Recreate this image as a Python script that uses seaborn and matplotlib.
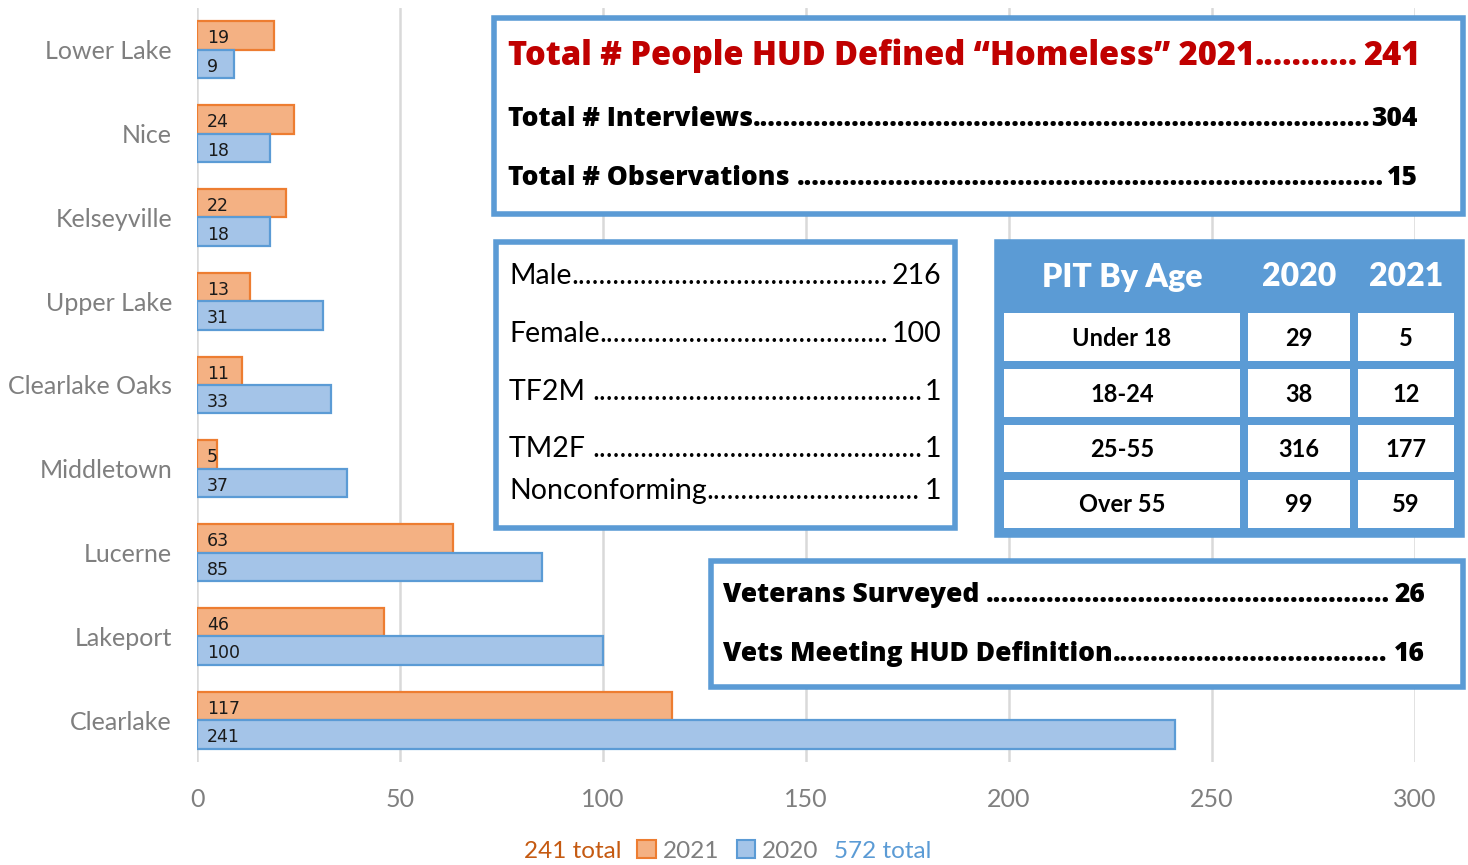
import pandas as pd
import matplotlib.pyplot as plt
import seaborn as sns
from matplotlib.patches import Rectangle

# data
towns = ["Lower Lake", "Nice", "Kelseyville", "Upper Lake", "Clearlake Oaks",
         "Middletown", "Lucerne", "Lakeport", "Clearlake"]
count_2021 = [19, 24, 22, 13, 11, 5, 63, 46, 117]
count_2020 = [9, 18, 18, 31, 33, 37, 85, 100, 241]
years = ["2021", "2020"]
total_2021 = "241 total"
total_2020 = "572 total"

summary_labels = ["Total # Interviews", "Total # Observations "]
summary_values = ["304", "15"]
title_label = "Total # People HUD Defined \u201cHomeless\u201d 2021"
title_value = "241"

gender_labels = ["Male", "Female", "TF2M ", "TM2F ", "Nonconforming"]
gender_values = ["216", "100", "1", "1", "1"]

age_header = ["PIT By Age", "2020", "2021"]
age_groups = ["Under 18", "18-24", "25-55", "Over 55"]
age_2020 = ["29", "38", "316", "99"]
age_2021 = ["5", "12", "177", "59"]

vet_labels = ["Veterans Surveyed ", "Vets Meeting HUD Definition"]
vet_values = ["26", "16"]

ORANGE_FILL, ORANGE_EDGE = "#F4B183", "#ED7D31"
BLUE_FILL, BLUE_EDGE = "#A4C4E8", "#5B9BD5"
BOX = "#5B9BD5"
W, H = 1468, 865


def fx(x):
    return x / W


def fy(y):
    return 1 - y / H


def box(fig, x0, y0, x1, y1, face="white"):
    fig.patches.append(Rectangle((fx(x0), fy(y1)), fx(x1 - x0), (y1 - y0) / H,
                                 transform=fig.transFigure, facecolor=face,
                                 edgecolor=BOX, linewidth=4, zorder=5))


def leader(fig, label, value, x0, x1, y, **kw):
    """label ....... value, the dots fill the gap"""
    r = fig.canvas.get_renderer()
    t1 = fig.text(fx(x0), fy(y), label, ha="left", va="center", zorder=6, **kw)
    t2 = fig.text(fx(x1), fy(y), value, ha="right", va="center", zorder=6, **kw)
    a = t1.get_window_extent(r).x1
    b = t2.get_window_extent(r).x0
    d = fig.text(a / fig.bbox.width, fy(y), ".", ha="left", va="center", zorder=6, **kw)
    n = 1
    while True:
        d.set_text("." * (n + 1))
        if d.get_window_extent(r).width > (b - a) - 1:
            break
        n += 1
    d.set_text("." * n)


df = pd.DataFrame({
    "town": towns * 2,
    "year": ["2021"] * len(towns) + ["2020"] * len(towns),
    "count": count_2021 + count_2020,
})

sns.set_style("white")
plt.rcParams["font.family"] = ["Lato", "DejaVu Sans"]

fig = plt.figure(figsize=(14.68, 8.65), dpi=100)
ax = fig.add_axes([fx(197), fy(762), fx(1415 - 197), (762 - 8) / H])

sns.barplot(data=df, y="town", x="count", hue="year", hue_order=years,
            order=towns, orient="h", width=0.68, ax=ax,
            palette=[ORANGE_FILL, BLUE_FILL], saturation=1, legend=False)
for cont, edge in zip(ax.containers, [ORANGE_EDGE, BLUE_EDGE]):
    for rect in cont:
        rect.set_edgecolor(edge)
        rect.set_linewidth(1.6)
        ax.text(rect.get_x() + 2.5, rect.get_y() + rect.get_height() * 0.6,
                f"{int(rect.get_width())}", va="center", ha="left",
                fontsize=12.5, color="#1a1a1a", family="Liberation Sans Narrow")

ax.set_xlim(0, 300)
ax.set_ylim(len(towns) - 0.5, -0.5)
ax.set_xticks(range(0, 301, 50))
ax.xaxis.grid(True, color="#D9D9D9", linewidth=1.8)
ax.set_axisbelow(True)
sns.despine(ax=ax, left=True, bottom=True, top=True, right=True)
ax.tick_params(axis="both", length=0, labelsize=18, labelcolor="#7F7F7F")
ax.tick_params(axis="x", pad=19)
ax.tick_params(axis="y", pad=18)
ax.set_xlabel("")
ax.set_ylabel("")

# legend row
handles = [Rectangle((0, 0), 1, 1, facecolor=ORANGE_FILL, edgecolor=ORANGE_EDGE, lw=1.5),
           Rectangle((0, 0), 1, 1, facecolor=BLUE_FILL, edgecolor=BLUE_EDGE, lw=1.5)]
fig.legend(handles, years, loc="center", bbox_to_anchor=(fx(728), fy(851)), ncol=2,
           frameon=False, handlelength=0.75, handleheight=0.75, handletextpad=0.3,
           columnspacing=0.7, labelcolor="#7F7F7F", fontsize=17.5)
fig.text(fx(621), fy(851), total_2021, ha="right", va="center", color="#C55A11", fontsize=17.5)
fig.text(fx(834), fy(851), total_2020, ha="left", va="center", color="#5B9BD5", fontsize=17.5)

heavy = dict(family=["Open Sans", "DejaVu Sans"], fontweight="extra bold")

# box 1: headline totals
box(fig, 494, 18, 1463, 214)
leader(fig, title_label, title_value, 508, 1420, 56, fontsize=23.5, color="#C00000", **heavy)
for lab, val, y in zip(summary_labels, summary_values, [119, 178]):
    leader(fig, lab, val, 508, 1418, y, fontsize=19, color="black", **heavy)

# box 2: gender
box(fig, 496, 242, 955, 528)
for lab, val, y in zip(gender_labels, gender_values, [276, 334, 392, 449, 491]):
    leader(fig, lab, val, 509, 941, y, fontsize=20.5, color="black")

# box 3: age table
box(fig, 997, 242, 1462, 535, face=BOX)
cols = [(1004, 1240), (1248, 1350), (1358, 1454)]
rows = [(313, 361), (369, 417), (425, 472), (480, 528)]
for (c0, c1), head in zip(cols, age_header):
    fig.text(fx((c0 + c1) / 2), fy(277), head, ha="center", va="center", color="white",
             fontsize=23, fontweight="heavy", zorder=7)
for (r0, r1), vals in zip(rows, zip(age_groups, age_2020, age_2021)):
    for (c0, c1), v in zip(cols, vals):
        fig.patches.append(Rectangle((fx(c0), fy(r1)), fx(c1 - c0), (r1 - r0) / H,
                                     transform=fig.transFigure, facecolor="white",
                                     edgecolor="none", zorder=6))
        fig.text(fx((c0 + c1) / 2), fy((r0 + r1) / 2 + 1), v, ha="center", va="center",
                 fontsize=17, fontweight="bold", color="black", zorder=7)

# box 4: veterans
box(fig, 711, 561, 1463, 687)
for lab, val, y in zip(vet_labels, vet_values, [595, 654]):
    leader(fig, lab, val, 723, 1425, y, fontsize=19, color="black", **heavy)

fig.savefig("out.png", dpi=100)
